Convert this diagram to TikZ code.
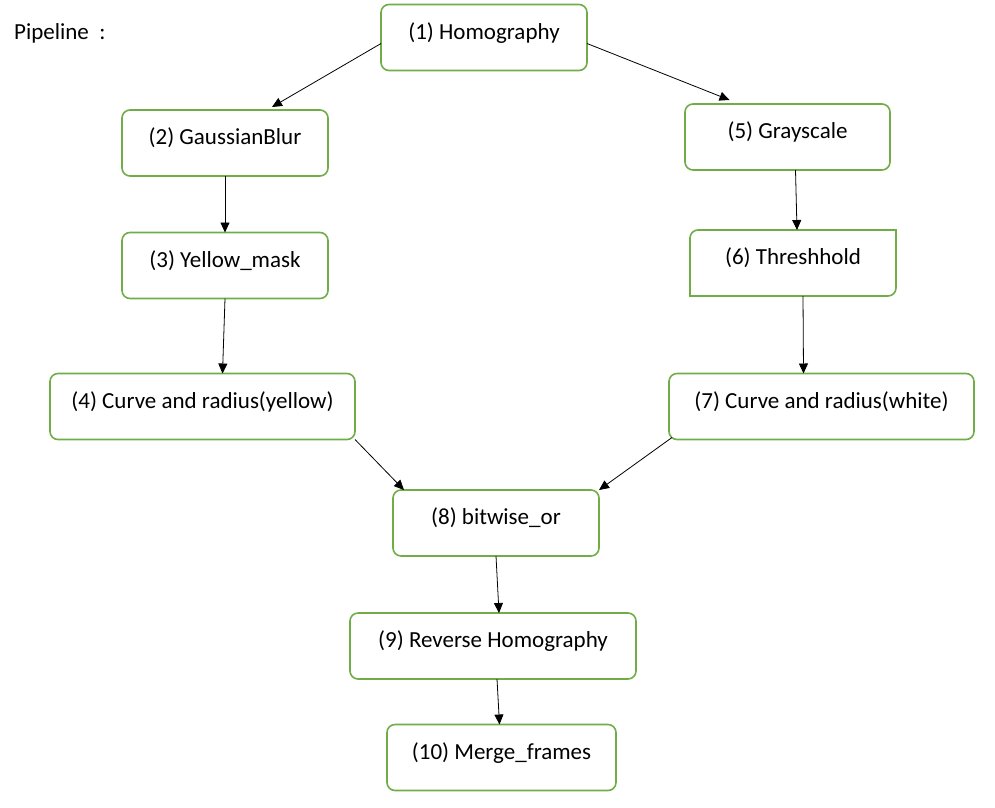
\documentclass[tikz,border=0pt]{standalone}
\usepackage{fontspec}
\setmainfont{Carlito}
\usetikzlibrary{arrows.meta}
\definecolor{boxgreen}{RGB}{112,173,71}

\tikzset{
  stepbox/.style={draw=boxgreen, line width=1.6pt, rounded corners=8pt, fill=white,
    inner xsep=0pt, inner ysep=0pt, outer sep=0pt, text height=34.5pt, text depth=31.5pt,
    minimum width=#1, font=\fontsize{23}{27}\selectfont},
  stepbox/.default=206pt,
  flow/.style={line width=0.8pt, -{Triangle[length=10pt,width=9pt]}}
}

\begin{document}
\begin{tikzpicture}[x=1pt,y=1pt]
\useasboundingbox (0,0) rectangle (995,-807);
\node[anchor=base west, inner sep=0pt, font=\fontsize{23}{27}\selectfont] (title) at (14,-39) {Pipeline\ \ :};
% left branch
\node[stepbox] (homog) at (484,-37.5) {(1) Homography};
\node[stepbox] (blur) at (225,-143) {(2) GaussianBlur};
\node[stepbox] (yellow) at (225,-265.5) {(3) Yellow\_mask};
\node[stepbox=305pt] (curvey) at (202.5,-406.5) {(4) Curve and radius(yellow)};
% right branch
\node[stepbox=205pt] (gray) at (787.5,-137) {(5) Grayscale};
\node[stepbox, draw=none] (thresh) at (793,-263) {(6) Threshhold};
\draw[boxgreen, line width=1.6pt] (thresh.south west) -- ([yshift=-8pt]thresh.north west)
  arc[start angle=180, end angle=90, radius=8pt] -- (thresh.north east)
  -- ([yshift=8pt]thresh.south east) arc[start angle=0, end angle=-90, radius=8pt] -- cycle;
\node[stepbox=305pt] (curvew) at (821.5,-406.5) {(7) Curve and radius(white)};
% merge
\node[stepbox] (bitor) at (496,-523) {(8) bitwise\_or};
\node[stepbox=286pt] (rhomog) at (493,-646) {(9) Reverse Homography};
\node[stepbox=229pt] (merge) at (501.5,-757.5) {(10) Merge\_frames};

\draw[flow] ([yshift=-6pt]homog.west) -- ([xshift=47pt,yshift=3pt]blur.north);
\draw[flow] ([yshift=-6pt]homog.east) -- ([xshift=-58pt,yshift=4pt]gray.north);
\draw[flow] (blur.south) -- (yellow.north);
\draw[flow] (yellow.south) -- ([xshift=20pt]curvey.north);
\draw[flow] ([xshift=8pt]gray.south) -- ([xshift=4pt]thresh.north);
\draw[flow] ([xshift=10pt]thresh.south) -- ([xshift=-18pt]curvew.north);
\draw[flow] (curvey.south east) -- ([xshift=11pt]bitor.north west);
\draw[flow] ([xshift=3pt,yshift=2pt]curvew.south west) -- (bitor.north east);
\draw[flow] (bitor.south) -- ([xshift=6pt]rhomog.north);
\draw[flow] ([xshift=4pt]rhomog.south) -- ([xshift=-2pt]merge.north);
\end{tikzpicture}
\end{document}
